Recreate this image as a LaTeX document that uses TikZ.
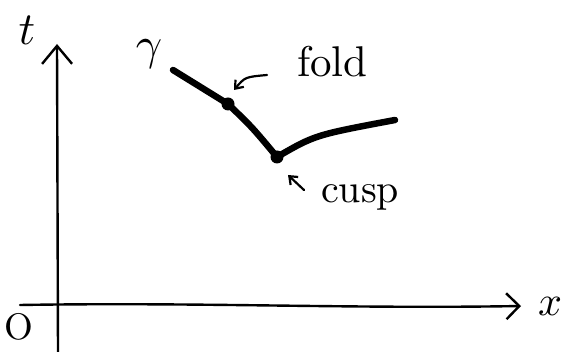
\documentclass[tikz,border=0pt]{standalone}
\usepackage{graphicx}
\usetikzlibrary{arrows.meta}
\begin{document}
\begin{tikzpicture}[x=1pt,y=-1pt,
  axis/.style={line width=2.4pt,line cap=round},
  curve/.style={line width=6.5pt,line cap=round,line join=round},
  pointer/.style={line width=2.2pt,line cap=round,-{Straight Barb[length=7pt,width=11pt,line width=2.2pt]}},
  lbl/.style={inner sep=0pt},
  dot/.style={circle,fill=black,inner sep=0pt,minimum size=13pt}]
\useasboundingbox (0,0) rectangle (576,352);
% axes
\coordinate (tbot) at (58,352);
\coordinate (ttop) at (57,44);
\coordinate (xl) at (20,305);
\coordinate (xr) at (521,306);
\draw[axis,-{Straight Barb[length=18pt,width=30pt,line width=2.4pt]}] (tbot) -- (ttop);
\draw[axis,-{Straight Barb[length=13pt,width=26pt,line width=2.4pt]}] (xl) .. controls (200,302) and (350,309) .. (xr);
\node[lbl] (t) at (27,30) {\scalebox{4.6}{$t$}};
\node[lbl] (x) at (550,306) {\scalebox{4.2}{$x$}};
\node[lbl] (o) at (19,327) {\scalebox{3.7}{O}};
% curve
\coordinate (s) at (173,70);
\node[dot] (fold) at (228,104) {};
\node[dot] (cusp) at (277,157) {};
\coordinate (e) at (395,120);
\draw[curve] (s) -- (fold.center) .. controls (252,127) .. (cusp.center) .. controls (315,135) .. (e);
\node[lbl] (gamma) at (149,54) {\scalebox{4.6}{$\gamma$}};
\node[lbl,anchor=west] (foldlbl) at (297,62) {\scalebox{4.3}{fold}};
\node[lbl,anchor=west] (cusplbl) at (321,197) {\scalebox{4.0}{cusp}};
\draw[pointer] (267,75) .. controls (245,77) .. (234,90);
\draw[pointer] (304,190) -- (288,175);
\end{tikzpicture}
\end{document}
